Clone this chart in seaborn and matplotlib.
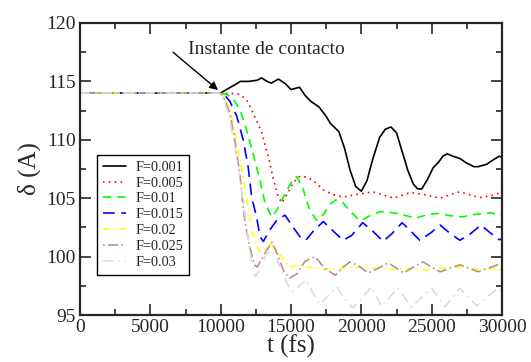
import pandas as pd
import matplotlib
matplotlib.use("Agg")
import matplotlib.pyplot as plt
import seaborn as sns

# Series (t in fs, delta in A)
t_001 = [0, 10000, 10400, 11000, 11400, 12000, 12600, 12900, 13300, 13600, 14100, 14600, 15000,
         15600, 16000, 16400, 17000, 17500, 17800, 18400, 18800, 19200, 19600, 20000, 20400, 20800,
         21300, 21700, 22100, 22500, 22900, 23300, 23700, 24000, 24300, 24700, 25100, 25500, 25800,
         26100, 26500, 27000, 27500, 28000, 28300, 28900, 29400, 29800, 30000]
d_001 = [114, 114, 114.3, 114.7, 115.0, 115.0, 115.1, 115.3, 115.0, 114.85, 115.2, 114.8, 114.3,
         114.5, 113.8, 113.3, 112.8, 112.0, 111.4, 110.7, 109.3, 107.4, 106.0, 105.6, 106.5, 108.3,
         110.2, 110.9, 111.1, 110.6, 109.0, 107.4, 106.2, 105.8, 105.8, 106.6, 107.6, 108.1, 108.6,
         108.8, 108.6, 108.4, 108.0, 107.7, 107.7, 107.9, 108.3, 108.6, 108.5]

t_005 = [0, 10000, 11000, 11400, 11900, 12300, 12900, 13400, 13750, 14100, 14350, 14700, 15200,
         15650, 16100, 16600, 17300, 18000, 18700, 19600, 20800, 21500, 22300, 23500, 24500, 25600,
         26300, 27000, 27700, 28400, 29200, 29700, 30000]
d_005 = [114, 114, 113.95, 113.9, 113.3, 112.3, 110.7, 108.5, 106.6, 105.1, 104.6, 105.3, 106.4,
         106.9, 106.8, 106.5, 105.7, 105.3, 105.1, 105.3, 105.55, 105.3, 105.0, 105.5, 105.3, 105.0,
         105.3, 105.55, 105.3, 105.05, 105.2, 105.4, 105.3]

t_010 = [0, 10000, 10500, 11000, 11400, 11850, 12300, 12800, 13150, 13500, 13650, 14000, 14450,
         15000, 15400, 15800, 16300, 16800, 17300, 17800, 18200, 18700, 19200, 19700, 20000, 20600,
         21300, 22000, 22500, 23200, 23900, 24700, 25500, 26300, 27200, 28000, 28700, 29200, 30000]
d_010 = [114, 114, 113.85, 113.3, 112.5, 110.8, 108.8, 106.5, 104.6, 103.7, 103.4, 104.0, 105.1,
         106.3, 106.85, 106.0, 104.1, 103.1, 103.6, 104.5, 104.85, 104.6, 103.9, 103.3, 103.1, 103.5,
         103.85, 103.8, 103.7, 103.5, 103.3, 103.6, 103.7, 103.5, 103.4, 103.6, 103.7, 103.75, 103.5]

t_015 = [0, 10000, 10300, 10650, 11150, 11600, 11950, 12200, 12550, 12800, 13030, 13500, 13980,
         14570, 15100, 15636, 16050, 16600, 17300, 17900, 18700, 19300, 20100, 20800, 21550, 22200,
         22900, 23500, 24150, 24900, 25600, 26300, 27000, 27700, 28500, 29100, 29800, 30000]
d_015 = [114, 114, 113.8, 113.3, 112.0, 110.0, 107.7, 105.1, 103.4, 101.7, 101.3, 102.3, 103.1,
         103.55, 102.6, 101.7, 101.4, 102.2, 103.0, 102.3, 101.4, 101.8, 102.9, 102.2, 101.3, 102.0,
         102.9, 102.2, 101.4, 102.0, 102.7, 102.0, 101.4, 101.9, 102.7, 102.1, 101.45, 101.5]

t_020 = [0, 10000, 10300, 10650, 11000, 11350, 11700, 11950, 12200, 12550, 12800, 13150, 13550,
         14000, 14450, 14900, 15600, 16300, 17300, 18500, 19700, 21000, 22200, 23500, 24600, 25700,
         27000, 28300, 29200, 30000]
d_020 = [114, 114, 113.6, 112.5, 110.8, 108.5, 106.0, 104.2, 102.3, 101.0, 100.4, 100.6, 101.1,
         100.6, 99.8, 99.1, 99.3, 99.1, 98.9, 99.0, 99.1, 99.0, 98.9, 99.0, 98.85, 99.0, 99.1, 98.9,
         99.0, 98.85]

t_025 = [0, 10000, 10300, 10650, 11000, 11350, 11700, 12050, 12400, 12600, 13100, 13650, 14100,
         14500, 14900, 15400, 16000, 16700, 17400, 18150, 18700, 19200, 19800, 20500, 21200, 21900,
         22400, 23000, 23700, 24400, 25000, 25600, 26300, 27000, 27700, 28300, 29000, 29700, 30000]
d_025 = [114, 114, 113.4, 112.3, 110.0, 107.2, 103.2, 100.9, 99.3, 99.1, 100.2, 101.25, 100.0,
         98.7, 98.15, 98.5, 99.6, 100.0, 99.0, 98.4, 99.1, 99.55, 99.2, 98.6, 99.0, 99.45, 99.1,
         98.6, 99.1, 99.55, 99.1, 98.7, 99.0, 99.3, 99.0, 98.7, 99.0, 99.3, 99.2]

t_030 = [0, 10000, 10300, 10650, 11000, 11300, 11600, 11950, 12200, 12450, 12750, 13200, 13620,
         14000, 14450, 14900, 15150, 15600, 16100, 16600, 17050, 17600, 18250, 18800, 19400, 20000,
         20700, 21450, 22000, 22600, 23550, 24300, 25000, 25950, 26500, 27000, 28200, 29000, 29700,
         30000]
d_030 = [114, 114, 113.2, 111.7, 109.5, 107.2, 104.8, 101.6, 99.5, 98.3, 98.8, 100.1, 100.55, 99.8,
         98.4, 97.3, 97.0, 97.5, 98.0, 96.8, 95.9, 96.6, 97.4, 96.4, 95.6, 96.4, 97.4, 95.7, 96.5,
         97.3, 95.7, 96.5, 97.3, 95.7, 96.5, 97.3, 95.8, 96.6, 97.3, 97.0]

labels = ["F=0.001", "F=0.005", "F=0.01", "F=0.015", "F=0.02", "F=0.025", "F=0.03"]
times = [t_001, t_005, t_010, t_015, t_020, t_025, t_030]
deltas = [d_001, d_005, d_010, d_015, d_020, d_025, d_030]

colors = ["black", "#ff0000", "#00ff00", "#0000ff", "#ffff00", "#bc8f8f", "#dcdcdc"]
styles = ["-", (0, (1, 2.5)), (0, (5, 3.5)), (0, (7, 4)), (0, (4, 2.5, 1, 2.5)),
          (0, (1, 2, 6, 2)), (0, (6, 3, 1, 3))]

sns.set_style("ticks")
plt.rcParams["font.family"] = ["Liberation Serif", "DejaVu Serif"]

fig = plt.figure(figsize=(5.31, 3.62), dpi=100)
ax = fig.add_axes([0.1507, 0.1298, 0.7947, 0.8067])

for t, d, lab, c, ls in zip(times, deltas, labels, colors, styles):
    df = pd.DataFrame({"t": t, "d": d})
    sns.lineplot(data=df, x="t", y="d", ax=ax, color=c, linestyle=ls, linewidth=1.2, label=lab)

ax.set_xlim(0, 30000)
ax.set_ylim(95, 120)
ax.set_xticks(range(0, 30001, 5000))
ax.set_xticks(range(0, 30001, 2500), minor=True)
ax.set_yticks(range(95, 121, 5))
ax.set_yticks([95 + 2.5 * i for i in range(11)], minor=True)
ax.tick_params(which="both", direction="in", top=True, right=True, width=1.2, labelsize=14, pad=3)
ax.tick_params(which="major", length=8)
ax.tick_params(which="minor", length=4.5)
for s in ax.spines.values():
    s.set_linewidth(1.6)

ax.set_xlabel("t (fs)", fontsize=18, labelpad=-1)
ax.set_ylabel("δ (A)", fontsize=18, labelpad=4)

# arrow + label for the contact instant
ax.annotate("", xy=(9808, 114.26), xytext=(6610, 117.5),
            arrowprops=dict(arrowstyle="-|>", color="black", lw=1.0, mutation_scale=12,
                            shrinkA=0, shrinkB=0))
ax.text(7676, 117.75, "Instante de contacto", fontsize=14, va="center", ha="left")

leg = ax.legend(loc="upper left", bbox_to_anchor=(0.04, 0.548), borderaxespad=0,
                fontsize=10.3, frameon=True, fancybox=False, edgecolor="black",
                framealpha=1, handlelength=1.6, labelspacing=0.2, borderpad=0.4,
                handletextpad=0.7)
leg.get_frame().set_linewidth(1.0)

fig.savefig("out.png", dpi=100)
